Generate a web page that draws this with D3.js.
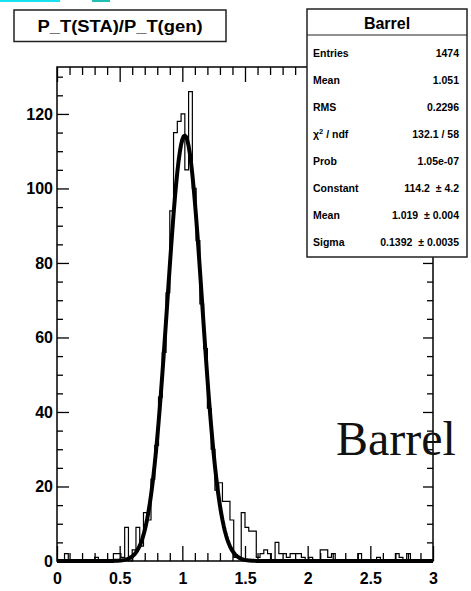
<!DOCTYPE html>
<html>
<head>
<meta charset="utf-8">
<script src="https://cdn.jsdelivr.net/npm/d3@7"></script>
<style>
body { margin: 0; background: #fff; }
svg { display: block; }
</style>
</head>
<body>
<svg width="471" height="591"></svg>
<script>
// histogram: 100 bins of 0.03 from 0 to 3
var binStart = 0;
var binWidth = 0.03;
var counts = [
  0, 0, 2, 0, 0, 0, 0, 0, 0, 0,
  1, 0, 0, 0, 0, 2, 2, 1, 9, 0,
  3, 9, 4, 13, 11, 22, 31, 44, 56, 72,
  94, 115, 118, 120, 105, 126, 100, 86, 69, 57,
  41, 30, 19, 21, 16, 16, 11, 1, 1, 13,
  9, 8, 8, 1, 2, 3, 2, 0, 5, 2,
  2, 1, 2, 2, 2, 1, 0, 1, 0, 0,
  3, 3, 1, 2, 0, 0, 0, 0, 0, 0,
  2, 0, 0, 0, 0, 1, 0, 0, 0, 0,
  2, 1, 0, 2, 0, 0, 0, 0, 0, 0
];

// gaus fit parameters (from the stats box)
var fitConstant = 114.2;
var fitMean = 1.019;
var fitSigma = 0.1392;

var xTicks = [0, 0.5, 1, 1.5, 2, 2.5, 3];
var xTickLabels = ["0", "0.5", "1", "1.5", "2", "2.5", "3"];
var yTicks = [0, 20, 40, 60, 80, 100, 120];
var yTickLabels = ["0", "20", "40", "60", "80", "100", "120"];

var statTitle = "Barrel";
var statNames = ["Entries", "Mean", "RMS", "\u03c7\u00b2 / ndf", "Prob", "Constant", "Mean", "Sigma"];
var statValues = ["1474", "1.051", "0.2296", "132.1 / 58", "1.05e-07", "114.2  \u00b1 4.2", "1.019  \u00b1 0.004", "0.1392  \u00b1 0.0035"];

var histTitle = "P_T(STA)/P_T(gen)";
var sideLabel = "Barrel";

// Set up margins and dimensions
var margin = { top: 67, right: 38, bottom: 30, left: 57 };
var width = 471 - margin.left - margin.right;
var height = 591 - margin.top - margin.bottom;

var root = d3.select("svg");

// little coloured bits at the top edge of the original crop
root.append("rect").attr("x", 0).attr("y", 0).attr("width", 60).attr("height", 2).attr("fill", "#19e3f0");
root.append("rect").attr("x", 92).attr("y", 0).attr("width", 18).attr("height", 2).attr("fill", "#1fc0b2");

var svg = root.append("g")
    .attr("transform", "translate(" + margin.left + "," + margin.top + ")");

var xScale = d3.scaleLinear().domain([0, 3]).range([0, width]);
var yScale = d3.scaleLinear().domain([0, 132.6]).range([height, 0]);

// histogram outline
var steps = [[binStart, 0]];
counts.forEach(function(c, i) { steps.push([binStart + i * binWidth, c]); });
steps.push([binStart + counts.length * binWidth, counts[counts.length - 1]]);
steps.push([binStart + counts.length * binWidth, 0]);

var stepLine = d3.line()
    .x(function(d) { return xScale(d[0]); })
    .y(function(d) { return yScale(d[1]); })
    .curve(d3.curveStepAfter);

svg.append("path")
    .datum(steps)
    .attr("fill", "none")
    .attr("stroke", "#000")
    .attr("stroke-width", 1.2)
    .attr("d", stepLine);

// fitted gaussian
var fitPts = d3.range(0, 301).map(function(i) {
    var x = i * 0.01;
    var z = (x - fitMean) / fitSigma;
    return [x, fitConstant * Math.exp(-0.5 * z * z)];
});

svg.append("path")
    .datum(fitPts)
    .attr("fill", "none")
    .attr("stroke", "#000")
    .attr("stroke-width", 4)
    .attr("stroke-linejoin", "round")
    .attr("d", d3.line()
        .x(function(d) { return xScale(d[0]); })
        .y(function(d) { return yScale(d[1]); }));

// ticks
var xMinor = d3.range(1, 30).map(function(i) { return i / 10; })
    .filter(function(v) { return xTicks.indexOf(v) < 0; });
var yMinor = d3.range(1, 27).map(function(i) { return i * 5; })
    .filter(function(v) { return yTicks.indexOf(v) < 0; });

function styleAxis(g) {
    g.select(".domain").remove();
    g.selectAll("line").attr("stroke", "#000").attr("stroke-width", 1.3);
    g.selectAll("text")
        .attr("font-family", "'Liberation Sans', Arial, sans-serif")
        .attr("font-weight", "bold")
        .attr("font-size", "16px")
        .attr("fill", "#000");
}

svg.append("g")
    .attr("transform", "translate(0," + height + ")")
    .call(d3.axisBottom(xScale).tickValues(xTicks)
        .tickFormat(function(d, i) { return xTickLabels[i]; })
        .tickSize(-15).tickSizeOuter(0).tickPadding(12))
    .call(styleAxis);
svg.append("g")
    .attr("transform", "translate(0," + height + ")")
    .call(d3.axisBottom(xScale).tickValues(xMinor).tickFormat("").tickSize(-8).tickSizeOuter(0))
    .call(styleAxis);
svg.append("g")
    .call(d3.axisTop(xScale).tickValues(xTicks).tickFormat("").tickSize(-15).tickSizeOuter(0))
    .call(styleAxis);
svg.append("g")
    .call(d3.axisTop(xScale).tickValues(xMinor).tickFormat("").tickSize(-8).tickSizeOuter(0))
    .call(styleAxis);

svg.append("g")
    .call(d3.axisLeft(yScale).tickValues(yTicks)
        .tickFormat(function(d, i) { return yTickLabels[i]; })
        .tickSize(-12).tickSizeOuter(0).tickPadding(4))
    .call(styleAxis);
svg.append("g")
    .call(d3.axisLeft(yScale).tickValues(yMinor).tickFormat("").tickSize(-6).tickSizeOuter(0))
    .call(styleAxis);
svg.append("g")
    .attr("transform", "translate(" + width + ",0)")
    .call(d3.axisRight(yScale).tickValues(yTicks).tickFormat("").tickSize(-10).tickSizeOuter(0))
    .call(styleAxis);
svg.append("g")
    .attr("transform", "translate(" + width + ",0)")
    .call(d3.axisRight(yScale).tickValues(yMinor).tickFormat("").tickSize(-6).tickSizeOuter(0))
    .call(styleAxis);

// frame
svg.append("rect")
    .attr("width", width)
    .attr("height", height)
    .attr("fill", "none")
    .attr("stroke", "#000")
    .attr("stroke-width", 1.5);

// title box
root.append("rect")
    .attr("x", 14).attr("y", 10).attr("width", 212).attr("height", 31.5)
    .attr("fill", "#fff").attr("stroke", "#222").attr("stroke-width", 1.5);
root.append("text")
    .attr("x", 120).attr("y", 31.5)
    .attr("text-anchor", "middle")
    .attr("font-family", "'Liberation Sans', Arial, sans-serif")
    .attr("font-weight", "bold")
    .attr("font-size", "16px")
    .attr("textLength", 165)
    .attr("lengthAdjust", "spacingAndGlyphs")
    .text(histTitle);

// stats box
var sb = { x: 307, y: 9, w: 160, h: 248 };
root.append("rect")
    .attr("x", sb.x).attr("y", sb.y).attr("width", sb.w).attr("height", sb.h)
    .attr("fill", "#fff").attr("stroke", "#222").attr("stroke-width", 1.5);
root.append("line")
    .attr("x1", sb.x).attr("x2", sb.x + sb.w).attr("y1", 35).attr("y2", 35)
    .attr("stroke", "#222").attr("stroke-width", 1.2);
root.append("text")
    .attr("x", sb.x + sb.w / 2).attr("y", 28.5)
    .attr("text-anchor", "middle")
    .attr("font-family", "'Liberation Sans', Arial, sans-serif")
    .attr("font-weight", "bold")
    .attr("font-size", "16px")
    .text(statTitle);

var rows = root.append("g")
    .attr("font-family", "'Liberation Sans', Arial, sans-serif")
    .attr("font-weight", "bold")
    .attr("font-size", "10.5px");

statNames.forEach(function(name, i) {
    var y = 57 + i * 27;
    var t = rows.append("text").attr("x", sb.x + 6).attr("y", y);
    if (name.indexOf("\u03c7") === 0) {
        t.append("tspan").text("\u03c7");
        t.append("tspan").attr("font-size", "7.5px").attr("dy", -4).text("2");
        t.append("tspan").attr("dy", 4).text(" / ndf");
    } else {
        t.text(name);
    }
    rows.append("text")
        .attr("x", sb.x + sb.w - 8).attr("y", y)
        .attr("text-anchor", "end")
        .attr("xml:space", "preserve")
        .style("white-space", "pre")
        .text(statValues[i]);
});

// big side label
root.append("text")
    .attr("x", 336).attr("y", 455)
    .attr("font-family", "'Liberation Serif', 'DejaVu Serif', serif")
    .attr("font-size", "48px")
    .attr("fill", "#111")
    .text(sideLabel);
</script>
</body>
</html>
